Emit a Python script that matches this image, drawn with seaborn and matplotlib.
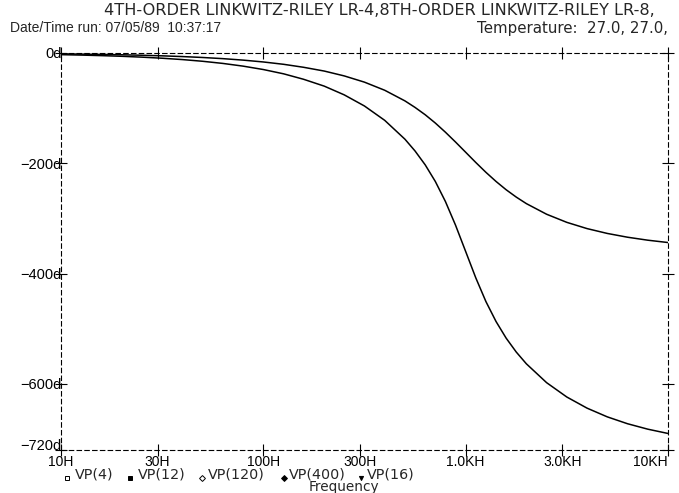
import matplotlib
matplotlib.use("Agg")
import matplotlib.pyplot as plt
import pandas as pd
import seaborn as sns
from matplotlib.lines import Line2D
from matplotlib.ticker import FixedLocator, FixedFormatter, NullLocator

# ---- data ----
freq_hz = [10, 12.6, 15.8, 20, 25.1, 31.6, 39.8, 50.1, 63.1, 79.4,
           100, 126, 158, 200, 251, 316, 398, 501, 562, 631, 708, 794, 891,
           1000, 1122, 1259, 1413, 1585, 1778, 1995, 2512, 3162, 3981, 5012, 6310, 7943, 10000]
lr4_phase_deg = [-1.62, -2.04, -2.57, -3.23, -4.07, -5.13, -6.46, -8.13, -10.24, -12.90,
                 -16.26, -20.51, -25.90, -32.75, -41.53, -52.85, -67.57, -86.85, -98.69, -112.00,
                 -127.03, -143.62, -161.46,
                 -180.00, -198.54, -216.38, -232.97, -248.00, -261.31, -273.15, -292.43, -307.15,
                 -318.47, -327.25, -334.10, -339.49, -343.74]
lr8_phase_deg = [-3.00, -3.77, -4.75, -5.98, -7.52, -9.47, -11.92, -15.01, -18.90, -23.81,
                 -29.99, -37.78, -47.63, -60.09, -75.90, -96.09, -122.13, -156.33, -177.68, -202.87,
                 -232.99, -269.25, -312.21,
                 -360.00, -407.79, -450.75, -487.01, -517.13, -542.32, -563.67, -597.87, -623.91,
                 -644.10, -659.91, -672.37, -682.22, -690.01]
series_names = ["LR-4", "LR-8"]

x_ticks = [10, 30, 100, 300, 1000, 3000, 10000]
x_tick_labels = ["10H", "30H", "100H", "300H", "1.0KH", "3.0KH", "10KH"]
y_ticks = [0, -200, -400, -600, -720]
y_tick_labels = ["0d", "\u2212200d", "\u2212400d", "\u2212600d", "\u2212720d"]
legend_labels = ["VP(4)", "VP(12)", "VP(120)", "VP(400)", "VP(16)"]
title_line1 = "4TH-ORDER LINKWITZ-RILEY LR-4,8TH-ORDER LINKWITZ-RILEY LR-8,"
date_line = "Date/Time run: 07/05/89  10:37:17"
temp_line = "Temperature:  27.0, 27.0,"
x_title = "Frequency"

# ---- figure ----
W, H = 679, 493
sns.set_theme(style="white")
plt.rcParams['font.family'] = ['Liberation Sans', 'DejaVu Sans']
FS = 10
WIDE = ['DejaVu Sans']

fig = plt.figure(figsize=(W / 100, H / 100), dpi=100)
fig.patch.set_facecolor("white")
L, R, T, B = 61, 668, 53, 450
ax = fig.add_axes([L / W, (H - B) / H, (R - L) / W, (B - T) / H])

df = pd.DataFrame({
    "freq": freq_hz + freq_hz,
    "phase": lr4_phase_deg + lr8_phase_deg,
    "series": [series_names[0]] * len(freq_hz) + [series_names[1]] * len(freq_hz),
})
sns.lineplot(data=df, x="freq", y="phase", hue="series",
             palette=["black", "black"], linewidth=1.1, legend=False,
             estimator=None, sort=False, ax=ax)

ax.set_xscale("log")
ax.set_xlim(10, 10000)
ax.set_ylim(-720, 0)
ax.xaxis.set_major_locator(FixedLocator(x_ticks))
ax.xaxis.set_major_formatter(FixedFormatter(x_tick_labels))
ax.xaxis.set_minor_locator(NullLocator())
ax.yaxis.set_major_locator(FixedLocator(y_ticks))
ax.yaxis.set_major_formatter(FixedFormatter(y_tick_labels))
ax.set_xlabel("")
ax.set_ylabel("")
ax.grid(False)
ax.set_facecolor("white")

for s in ax.spines.values():
    s.set_visible(True)
    s.set_color("black")
    s.set_linewidth(0.8)
    s.set_linestyle((0, (4, 3)))

ax.tick_params(axis="both", which="major", direction="inout", length=8, width=0.8,
               color="black", top=True, right=True, bottom=True, left=True,
               labelsize=FS, labelcolor="black")
ax.tick_params(axis="y", pad=-4.5, labelsize=10.5)
ax.tick_params(axis="x", pad=-0.3)
xl = ax.get_xticklabels()
xl[-1].set_horizontalalignment("right")
yl = ax.get_yticklabels()
for lab in yl:
    lab.set_verticalalignment("center_baseline")
yl[-1].set_verticalalignment("baseline")

# header
fig.text(104 / W, 1 - 10.5 / H, title_line1, ha="left", va="center", fontsize=11.6, family=WIDE)
fig.text(10 / W, 1 - 28.5 / H, date_line, ha="left", va="center", fontsize=FS)
fig.text(668 / W, 1 - 28.5 / H, temp_line, ha="right", va="center", fontsize=10.85, family=WIDE)

# trace legend (PSpice style)
marker_x = [67, 130, 202, 284, 361]
text_x = [75, 138, 208, 289, 367]
markers = [("s", "none"), ("s", "black"), ("D", "none"), ("D", "black"), ("v", "black")]
ly = 475
for mx, tx, (m, fc), lab in zip(marker_x, text_x, markers, legend_labels):
    fig.add_artist(Line2D([mx / W], [1 - (ly + 3) / H], marker=m, markersize=3,
                          markerfacecolor=fc, markeredgecolor="black",
                          markeredgewidth=0.7, linestyle="none",
                          transform=fig.transFigure))
    fig.text(tx / W, 1 - ly / H, lab, ha="left", va="center", fontsize=10.3, family=WIDE)

fig.text(344 / W, 1 - 487.5 / H, x_title, ha="center", va="center", fontsize=9.8, family=WIDE)

fig.savefig("out.png", dpi=100, facecolor="white")
